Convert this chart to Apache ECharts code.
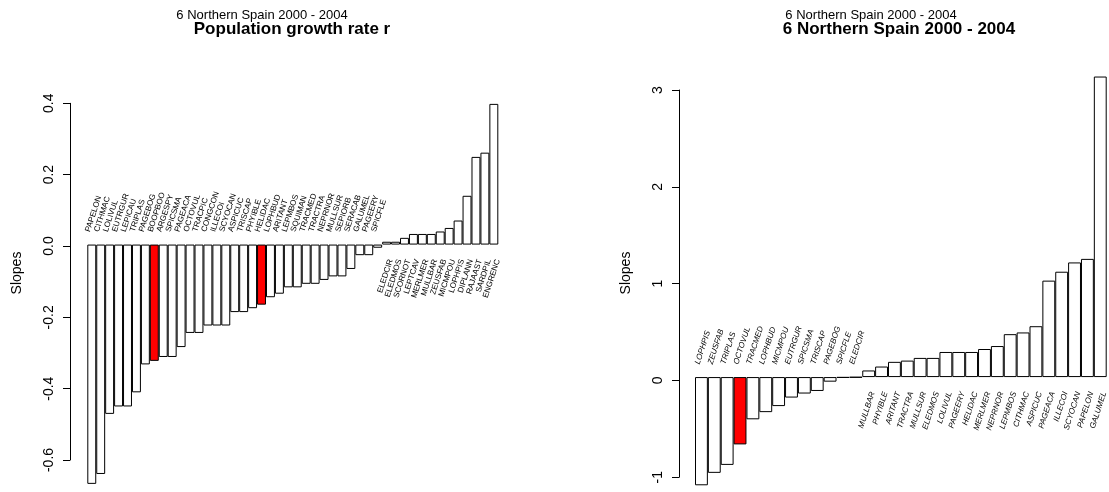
<!DOCTYPE html>
<html>
<head>
<meta charset="utf-8">
<title>6 Northern Spain 2000 - 2004</title>
<script src="https://cdn.jsdelivr.net/npm/echarts@6/dist/echarts.min.js"></script>
<style>
  html, body { margin: 0; padding: 0; background: #fff; }
  #chart { width: 1109px; height: 492px; }
</style>
</head>
<body>
<div id="chart"></div>
<script>
// Left panel: population growth rate r per species, sorted
const growthNames = [
  'PAPELON','CITHMAC','LOLIVUL','EUTRGUR','LEPICAU','TRIPLAS','PAGEBOG','BOOPBOO',
  'ARGESPY','SPICSMA','PAGEACA','OCTOVUL','TRACPIC','CONGCON','ILLECOI','SCYOCAN',
  'ASPICUC','TRISCAP','PHYIBLE','HELIDAC','LOPHBUD','ARITANT','LEPMBOS','SQUIMAN',
  'TRACMED','TRACTRA','NEPRNOR','MULLSUR','SEPIORB','SERACAB','GALUMEL','PAGEERY',
  'SPICFLE','ELEDCIR','ELEDMOS','SCORNOT','LEPTCAV','MERLMER','MULLBAR','ZEUSFAB',
  'MICMPOU','LOPHPIS','DIPLANN','RAJAAST','SARDPIL','ENGRENC'
];
const growthSlopes = [
  -0.677, -0.649, -0.479, -0.458, -0.458, -0.418, -0.339, -0.329,
  -0.318, -0.318, -0.290, -0.250, -0.250, -0.229, -0.229, -0.229,
  -0.191, -0.191, -0.180, -0.170, -0.149, -0.139, -0.121, -0.121,
  -0.111, -0.111, -0.100, -0.090, -0.090, -0.069, -0.030, -0.030,
  -0.009, 0.008, 0.008, 0.019, 0.030, 0.030, 0.030, 0.037,
  0.047, 0.068, 0.138, 0.248, 0.260, 0.398
];
const growthHighlighted = ['BOOPBOO', 'HELIDAC'];
const growthTicks = { min: -0.6, max: 0.4, step: 0.2 };

// Right panel: slopes per species, sorted
const slopeNames = [
  'LOPHPIS','ZEUSFAB','TRIPLAS','OCTOVUL','TRACMED','LOPHBUD','MICMPOU','EUTRGUR',
  'SPICSMA','TRISCAP','PAGEBOG','SPICFLE','ELEDCIR','MULLBAR','PHYIBLE','ARITANT',
  'TRACTRA','MULLSUR','ELEDMOS','LOLIVUL','PAGEERY','HELIDAC','MERLMER','NEPRNOR',
  'LEPMBOS','CITHMAC','ASPICUC','PAGEACA','ILLECOI','SCYOCAN','PAPELON','GALUMEL'
];
const slopeValues = [
  -1.13, -1.00, -0.917, -0.703, -0.441, -0.366, -0.303, -0.214,
  -0.172, -0.145, -0.048, -0.007, -0.004, 0.069, 0.110, 0.159,
  0.172, 0.200, 0.200, 0.262, 0.262, 0.262, 0.293, 0.324,
  0.448, 0.466, 0.531, 1.007, 1.100, 1.197, 1.234, 3.138
];
const slopeHighlighted = ['OCTOVUL'];
const slopeTicks = { min: -1, max: 3, step: 1 };

const FONT = "'Liberation Sans', Arial, Helvetica, sans-serif";
const LABEL_ANGLE = 72 * Math.PI / 180;

function barSeries(names, values, highlighted, axisIdx) {
  return {
    type: 'bar',
    xAxisIndex: axisIdx,
    yAxisIndex: axisIdx,
    barCategoryGap: 0,
    silent: true,
    data: values.map((v, i) => ({
      value: v,
      itemStyle: {
        color: highlighted.includes(names[i]) ? '#ff0000' : '#ffffff',
        borderColor: '#000',
        borderWidth: 1
      }
    }))
  };
}

// Species names written at the base of each bar, on the opposite side of the bar
function nameSeries(names, values, axisIdx, italic) {
  return {
    type: 'custom',
    xAxisIndex: axisIdx,
    yAxisIndex: axisIdx,
    silent: true,
    clip: false,
    data: values.map((v, i) => [i, v]),
    renderItem(params, api) {
      const i = api.value(0);
      const v = api.value(1);
      const p = api.coord([i, 0]);
      const neg = v < 0;
      return {
        type: 'text',
        x: p[0] + (neg ? -4 : 4),
        y: p[1] + (neg ? -13 : 15),
        rotation: LABEL_ANGLE,
        style: {
          text: names[i],
          fill: '#000',
          font: (italic ? 'italic ' : '') + '8px ' + FONT,
          align: neg ? 'left' : 'right',
          textAlign: neg ? 'left' : 'right',
          verticalAlign: 'middle',
          textVerticalAlign: 'middle'
        }
      };
    }
  };
}

function hiddenCategory(names, gridIndex) {
  return { type: 'category', gridIndex, data: names, show: false, boundaryGap: true };
}
function hiddenValue(min, max, gridIndex) {
  return { type: 'value', gridIndex, min, max, show: false };
}
function visibleAxis(t, gridIndex, decimals) {
  return {
    type: 'value', gridIndex, min: t.min, max: t.max, interval: t.step,
    position: 'left',
    axisLine: { show: true, lineStyle: { color: '#000', width: 1 } },
    axisTick: { show: true, length: 7, lineStyle: { color: '#000', width: 1 } },
    splitLine: { show: false },
    axisLabel: {
      rotate: 90, margin: 14, color: '#000', fontSize: 14, fontFamily: FONT,
      formatter: v => v.toFixed(decimals)
    }
  };
}

function textItem(x, y, text, font, rotation) {
  return {
    type: 'text', x, y, rotation: rotation || 0,
    style: {
      text, font, fill: '#000',
      align: 'center', textAlign: 'center',
      verticalAlign: 'middle', textVerticalAlign: 'middle'
    }
  };
}

const chart = echarts.init(document.getElementById('chart'), null, { renderer: 'canvas' });

const option = {
  animation: false,
  backgroundColor: '#fff',
  grid: [
    { left: 87.3, width: 411, top: 85.5, height: 410.2 },   // left bars
    { left: 70, width: 10, top: 103.3, height: 356.7 },     // left axis
    { left: 695, width: 411.7, top: 70.6, height: 425.9 },  // right bars
    { left: 679, width: 10, top: 90, height: 387.2 }        // right axis
  ],
  xAxis: [
    hiddenCategory(growthNames, 0),
    { type: 'value', gridIndex: 1, show: false },
    hiddenCategory(slopeNames, 2),
    { type: 'value', gridIndex: 3, show: false }
  ],
  yAxis: [
    hiddenValue(-0.7, 0.45, 0),
    visibleAxis(growthTicks, 1, 1),
    hiddenValue(-1.2, 3.2, 2),
    visibleAxis(slopeTicks, 3, 0)
  ],
  series: [
    barSeries(growthNames, growthSlopes, growthHighlighted, 0),
    nameSeries(growthNames, growthSlopes, 0, false),
    barSeries(slopeNames, slopeValues, slopeHighlighted, 2),
    nameSeries(slopeNames, slopeValues, 2, true)
  ],
  graphic: [
    textItem(262, 15, '6 Northern Spain 2000 - 2004', '13px ' + FONT),
    textItem(292, 29, 'Population growth rate r', 'bold 17px ' + FONT),
    textItem(871, 15, '6 Northern Spain 2000 - 2004', '13px ' + FONT),
    textItem(899, 29, '6 Northern Spain 2000 - 2004', 'bold 17px ' + FONT),
    textItem(17, 273, 'Slopes', '14px ' + FONT, Math.PI / 2),
    textItem(626, 273, 'Slopes', '14px ' + FONT, Math.PI / 2)
  ]
};

chart.setOption(option);
</script>
</body>
</html>
